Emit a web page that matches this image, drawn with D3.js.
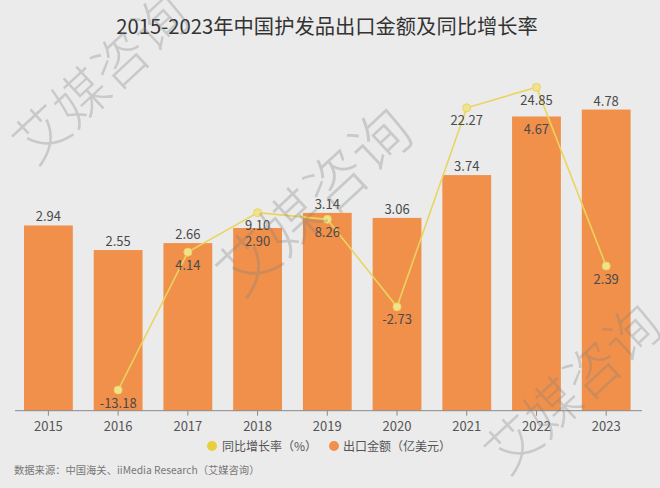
<!DOCTYPE html>
<html><head><meta charset="utf-8">
<script src="https://cdn.jsdelivr.net/npm/d3@7"></script>
<style>html,body{margin:0;padding:0;background:#ebebeb;}svg{display:block;}</style>
</head><body>
<svg id="chart" width="660" height="488"></svg>
<script>
const years = ["2015","2016","2017","2018","2019","2020","2021","2022","2023"];
const exportValue = [2.94, 2.55, 2.66, 2.90, 3.14, 3.06, 3.74, 4.67, 4.78];
const growthRate = [null, -13.18, 4.14, 9.10, 8.26, -2.73, 22.27, 24.85, 2.39];
const titleText = "2015-2023年中国护发品出口金额及同比增长率";
const legendLabels = ["同比增长率（%）", "出口金额（亿美元）"];
const sourceText = "数据来源：中国海关、iiMedia Research（艾媒咨询）";
const watermark = "艾媒咨询";

const font = "'Noto Sans CJK SC','Noto Sans',sans-serif";
const barColor = "#f0904a", lineColor = "#e9d55e", dotFill = "#f1e38e", legendYellow = "#e8cf3c";
const svg = d3.select("#chart");
svg.append("rect").attr("width",660).attr("height",488).attr("fill","#ebebeb");

const x = d3.scaleBand().domain(years).range([24, 630.6]).paddingInner(0.3).paddingOuter(0);
const yBar = d3.scaleLinear().domain([0, 6]).range([410.7, 32.7]);
const yLine = d3.scaleLinear().domain([-15, 30]).range([404.5, 46.3]);

// title
svg.append("text").attr("x",327).attr("y",34).attr("text-anchor","middle")
  .attr("font-family",font).attr("font-size",20.3).attr("fill","#333").text(titleText);

// bars
svg.append("g").selectAll("rect").data(years).join("rect")
  .attr("x", d => x(d)).attr("width", x.bandwidth())
  .attr("y", (d,i) => yBar(exportValue[i]))
  .attr("height", (d,i) => yBar(0) - yBar(exportValue[i]))
  .attr("fill", barColor);

// axis
const axisG = svg.append("g").attr("transform", `translate(0,${yBar(0)})`)
  .call(d3.axisBottom(x).tickSize(5).tickSizeOuter(0).tickPadding(6));
axisG.select(".domain").remove();
axisG.selectAll(".tick line").attr("stroke","#8a8a8a");
axisG.selectAll(".tick text").attr("font-family",font).attr("font-size",13).attr("fill","#555");
axisG.append("line").attr("x1",15).attr("x2",642).attr("y1",0).attr("y2",0).attr("stroke","#8a8a8a");

// line
const cx = d => x(d) + x.bandwidth()/2;
const lineData = years.map((d,i) => ({year:d, v:growthRate[i]})).filter(d => d.v !== null);
svg.append("path").datum(lineData)
  .attr("d", d3.line().x(d => cx(d.year)).y(d => yLine(d.v)))
  .attr("fill","none").attr("stroke",lineColor).attr("stroke-width",1.6);
svg.append("g").selectAll("circle").data(lineData).join("circle")
  .attr("cx", d => cx(d.year)).attr("cy", d => yLine(d.v)).attr("r",4)
  .attr("fill",dotFill).attr("stroke",lineColor).attr("stroke-width",1);

// line labels (below points)
svg.append("g").selectAll("text").data(lineData).join("text")
  .attr("x", d => cx(d.year)).attr("y", d => yLine(d.v) + 17.5)
  .attr("text-anchor","middle").attr("font-family",font).attr("font-size",13).attr("fill","#4a4a4a")
  .text(d => d.v.toFixed(2));

// bar labels: above bar, or inside if colliding with line label
svg.append("g").selectAll("text").data(years).join("text")
  .attr("x", d => cx(d))
  .attr("y", (d,i) => {
    const top = yBar(exportValue[i]);
    const above = top - 8.5;
    const g = growthRate[i];
    if (g !== null && Math.abs((yLine(g) + 13) - above) < 14) return top + 17.5;
    return top - 4;
  })
  .attr("text-anchor","middle").attr("font-family",font).attr("font-size",13).attr("fill","#4a4a4a")
  .text((d,i) => exportValue[i].toFixed(2));

// legend
const leg = svg.append("g").attr("font-family",font).attr("font-size",12).attr("fill","#555");
leg.append("circle").attr("cx",212).attr("cy",446).attr("r",5).attr("fill",legendYellow);
leg.append("text").attr("x",222).attr("y",450.5).text(legendLabels[0]);
leg.append("circle").attr("cx",334).attr("cy",446).attr("r",5).attr("fill",barColor);
leg.append("text").attr("x",343).attr("y",450.5).text(legendLabels[1]);

// source
svg.append("text").attr("x",14).attr("y",474).attr("font-family",font).attr("font-size",10.3)
  .attr("fill","#777").text(sourceText);

// watermarks
const wm = [[98,76,54],[311,198,60],[570,386,54]];
svg.append("g").selectAll("text").data(wm).join("text")
  .attr("transform", d => `translate(${d[0]},${d[1]}) rotate(-43)`)
  .attr("text-anchor","middle").attr("dominant-baseline","central")
  .attr("font-family",font).attr("font-weight",300).attr("font-size", d => d[2])
  .attr("fill","rgba(130,130,130,0.32)").text(watermark);
</script>
</body></html>
